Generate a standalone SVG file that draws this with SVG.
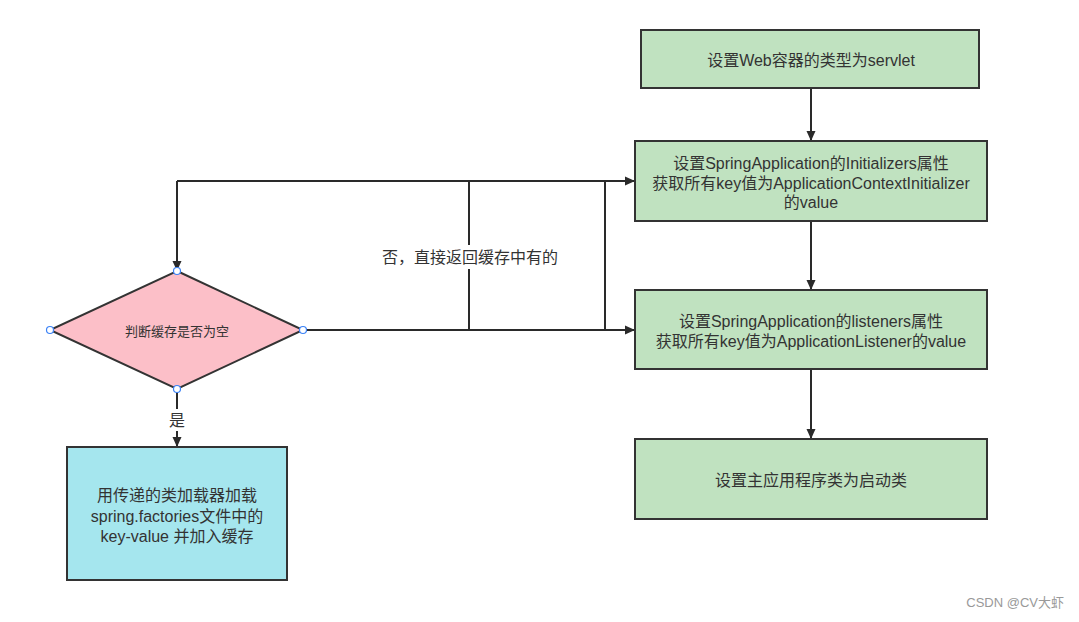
<svg xmlns="http://www.w3.org/2000/svg" width="1079" height="622" viewBox="0 0 1079 622">
<defs>
<style>
.box{stroke:#333;stroke-width:2}
.g{fill:#c0e2c0}
.t{font-family:"Liberation Sans","Noto Sans CJK SC",sans-serif;font-size:16px;fill:#333;text-anchor:middle;dominant-baseline:central}
.ln{fill:none;stroke:#2a2a2a;stroke-width:2}
.pt{fill:#fff;stroke:#3b82f6;stroke-width:1.2}
</style>
<marker id="ah" markerWidth="10" markerHeight="10" refX="9" refY="5" orient="auto" markerUnits="userSpaceOnUse">
<path d="M0,0.5 L10,5 L0,9.5 Z" fill="#2a2a2a"/>
</marker>
</defs>
<rect width="1079" height="622" fill="#fff"/>
<g id="connectors">
<line class="ln" x1="811" y1="88" x2="811" y2="140" marker-end="url(#ah)"/>
<line class="ln" x1="811" y1="221" x2="811" y2="289" marker-end="url(#ah)"/>
<line class="ln" x1="811" y1="370" x2="811" y2="438" marker-end="url(#ah)"/>
<polyline class="ln" points="177,181 634,181" marker-end="url(#ah)"/>
<polyline class="ln" points="177,181 177,270" marker-end="url(#ah)"/>
<line class="ln" x1="303" y1="330" x2="634" y2="330" marker-end="url(#ah)"/>
<line class="ln" x1="469" y1="181" x2="469" y2="245"/>
<line class="ln" x1="469" y1="269" x2="469" y2="330"/>
<line class="ln" x1="605" y1="181" x2="605" y2="330"/>
<line class="ln" x1="177" y1="389" x2="177" y2="409"/>
<line class="ln" x1="177" y1="431" x2="177" y2="446" marker-end="url(#ah)"/>
<text class="t" x="470" y="257">否，直接返回缓存中有的</text>
<text class="t" x="177" y="420">是</text>
</g>
<g id="node-web">
<rect class="box g" x="641" y="30" width="338" height="58"/>
<text class="t" x="811" y="60">设置Web容器的类型为servlet</text>
</g>
<g id="node-initializers">
<rect class="box g" x="635" y="141" width="352" height="80"/>
<text class="t" x="811" y="163">设置SpringApplication的Initializers属性</text>
<text class="t" x="811" y="183">获取所有key值为ApplicationContextInitializer</text>
<text class="t" x="811" y="202">的value</text>
</g>
<g id="node-listeners">
<rect class="box g" x="635" y="290" width="352" height="79"/>
<text class="t" x="811" y="321">设置SpringApplication的listeners属性</text>
<text class="t" x="811" y="341">获取所有key值为ApplicationListener的value</text>
</g>
<g id="node-main">
<rect class="box g" x="635" y="439" width="352" height="80"/>
<text class="t" x="811" y="480">设置主应用程序类为启动类</text>
</g>
<g id="node-decision">
<polygon class="box" fill="#fcbfc8" points="177,271 303,330 177,389 50,330"/>
<text class="t" x="177" y="331" style="font-size:13px">判断缓存是否为空</text>
<circle class="pt" cx="177" cy="271" r="3.5"/>
<circle class="pt" cx="303" cy="330" r="3.5"/>
<circle class="pt" cx="177" cy="389" r="3.5"/>
<circle class="pt" cx="50" cy="330" r="3.5"/>
</g>
<g id="node-load">
<rect class="box" fill="#a5e6ee" x="67" y="447" width="220" height="133"/>
<text class="t" x="177" y="495">用传递的类加载器加载</text>
<text class="t" x="177" y="516">spring.factories文件中的</text>
<text class="t" x="177" y="536">key-value 并加入缓存</text>
</g>
<text x="1064" y="607" style="font-family:'Liberation Sans','Noto Sans CJK SC',sans-serif;font-size:13px;fill:#999;text-anchor:end">CSDN @CV大虾</text>
</svg>
